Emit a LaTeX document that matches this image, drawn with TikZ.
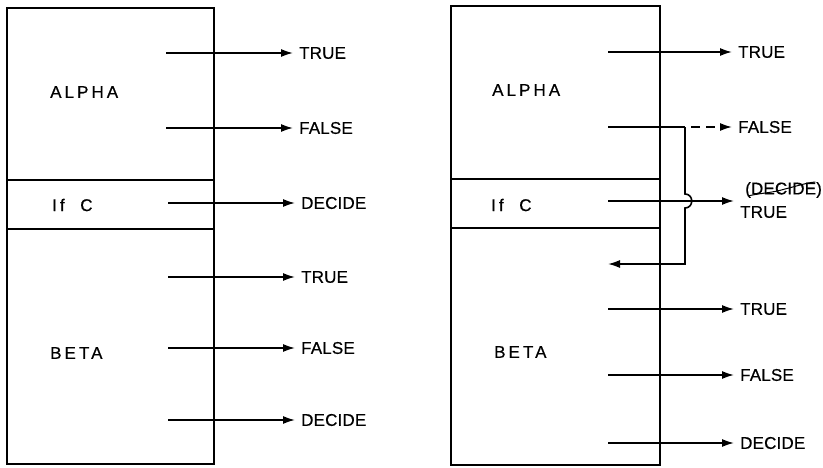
\documentclass[tikz,border=0pt]{standalone}
\usepackage{fontspec}
\usetikzlibrary{arrows.meta}
\newfontfamily\boxfont[LetterSpace=18,FakeBold=0.5]{Liberation Sans}
\newfontfamily\outfont[LetterSpace=1,FakeBold=0.5]{Liberation Sans}
\begin{document}
\begin{tikzpicture}[x=1pt,y=-1pt]
\tikzset{
  box/.style={draw, line width=1.5pt, inner sep=0pt, minimum width=#1},
  blbl/.style={font=\boxfont\fontsize{17}{19}\selectfont, anchor=west, inner sep=0pt},
  olbl/.style={font=\outfont\fontsize{17}{19}\selectfont, anchor=west, inner ysep=0pt, inner xsep=6pt},
  arr/.style={line width=1.6pt, -{Latex[length=12pt,width=8pt]}},
  ln/.style={line width=1.6pt},
}
\useasboundingbox (0,0) rectangle (823,467);
\fill[white] (0,0) rectangle (823,467);

% ---------- left diagram ----------
\node[box=207pt, minimum height=172pt] (alphaL) at (110.5,94) {};
\node[box=207pt, minimum height=49pt] (ifcL) at (110.5,204.5) {};
\node[box=207pt, minimum height=235pt] (betaL) at (110.5,346.5) {};
\node[blbl] (nAL) at (50,92) {ALPHA};
\node[blbl] (nIL) at (52,205) {If\ \ C};
\node[blbl] (nBL) at (50,353) {BETA};

\coordinate (sL1) at (166,53);
\coordinate (sL2) at (166,128);
\coordinate (sL3) at (168,203);
\coordinate (sL4) at (168,277);
\coordinate (sL5) at (168,348);
\coordinate (sL6) at (168,420);
\node[olbl] (tL1) at (293,53) {TRUE};
\node[olbl] (tL2) at (293,128) {FALSE};
\node[olbl] (tL3) at (295,203) {DECIDE};
\node[olbl] (tL4) at (295,277) {TRUE};
\node[olbl] (tL5) at (295,348) {FALSE};
\node[olbl] (tL6) at (295,420) {DECIDE};
\foreach \i in {1,...,6} {\draw[arr] (sL\i) -- (tL\i.west);}

% ---------- right diagram ----------
\node[box=209pt, minimum height=173pt] (alphaR) at (555.5,92.5) {};
\node[box=209pt, minimum height=49pt] (ifcR) at (555.5,203.5) {};
\node[box=209pt, minimum height=237pt] (betaR) at (555.5,346.5) {};
\node[blbl] (nAR) at (492,90) {ALPHA};
\node[blbl] (nIR) at (491,205) {If\ \ C};
\node[blbl] (nBR) at (494,352) {BETA};

\coordinate (sR1) at (608,52);
\coordinate (sR2) at (608,127);
\coordinate (sR3) at (608,201);
\coordinate (sR4) at (608,309);
\coordinate (sR5) at (608,375);
\coordinate (sR6) at (608,443);
\coordinate (jR) at (685,127);
\coordinate (cR) at (685,264);
\coordinate (eR) at (608,264);
\node[olbl] (tR1) at (732,52) {TRUE};
\node[olbl] (tR2) at (732,127) {FALSE};
\node[olbl, inner xsep=0pt] (tRd) at (745,190) {(DECIDE)};
\node[olbl] (tR3) at (734,212) {TRUE};
\coordinate (tR3a) at (734,201);
\node[olbl] (tR4) at (734,309) {TRUE};
\node[olbl] (tR5) at (734,375) {FALSE};
\node[olbl] (tR6) at (734,443) {DECIDE};

\draw[arr] (sR1) -- (tR1.west);
\draw[ln] (sR2) -- (jR);
\draw[arr, dash pattern=on 9pt off 6pt] (jR) ++(6,0) -- (tR2.west);
\draw[arr] (sR3) -- (tR3a);
\draw[arr] (jR) -- (685,194) .. controls (694,194) and (694,208) .. (685,208) -- (cR) -- (eR);
\foreach \i in {4,5,6} {\draw[arr] (sR\i) -- (tR\i.west);}
% handwritten strike-through
\draw[line width=1pt, line cap=round] (748,196) .. controls (760,193) and (772,193) .. (785,189) .. controls (797,186) and (806,183) .. (815,182);
\end{tikzpicture}
\end{document}
